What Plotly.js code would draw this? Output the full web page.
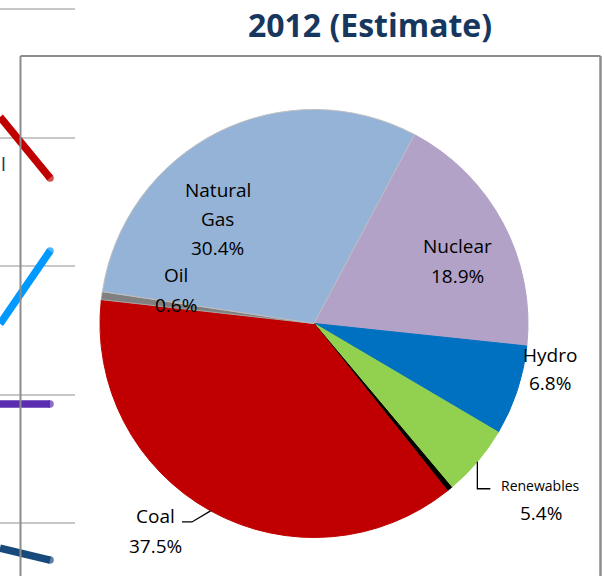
<!DOCTYPE html>
<html>
<head>
<meta charset="utf-8">
<script src="https://cdn.plot.ly/plotly-3.0.1.min.js"></script>
<style>html,body{margin:0;padding:0;background:#fff;}#chart{width:604px;height:576px;}</style>
</head>
<body>
<div id="chart"></div>
<script>
// ---- Pie data (drawing order, clockwise) ----
const categories = ['Nuclear', 'Hydro', 'Renewables', 'Other', 'Coal', 'Oil', 'Natural Gas'];
const shares     = [18.9, 6.8, 5.4, 0.4, 37.5, 0.6, 30.4];
const labelLines = {
  'Nuclear':     ['Nuclear', '18.9%'],
  'Hydro':       ['Hydro', '6.8%'],
  'Renewables':  ['Renewables', '5.4%'],
  'Coal':        ['Coal', '37.5%'],
  'Oil':         ['Oil', '0.6%'],
  'Natural Gas': ['Natural', 'Gas', '30.4%']
};
const sliceColors = ['#b2a2c7', '#0070c0', '#92d050', '#000000', '#c00000', '#808080', '#95b3d7'];
const sliceLine   = ['#b2a2c7', '#0070c0', '#92d050', '#000000', '#c00000', '#a6a6a6', '#bfbfbf'];

// ---- Cropped neighbouring line chart (left edge fragment) ----
const fragX      = [0, 1];
const fragRed    = [41.6, 36.85];
const fragBlue   = [25.5, 31.17];
const fragPurple = [19.26, 19.26];
const fragNavy   = [8.05, 7.12];

// ---- Layout / style constants ----
const W = 604, H = 576;
const CX = 314, CY = 323.5, R = 214;
const ROT = 28;
const px = x => x / W;
const py = y => 1 - y / H;

const labelStyle = {
  'Nuclear':     {f: 0.72, dx: 7,   dy: 10,  sp: 30, size: 19},
  'Hydro':       {f: 1.10, dx: 12,  dy: -28, sp: 28, size: 19},
  'Natural Gas': {f: 0.70, dx: -29, dy: 29,  sp: 29, size: 19},
  'Oil':         {f: 0.65, dx: 0,   dy: -15, sp: 30, size: 19},
  'Renewables':  {f: 1.00, dx: 63.6, dy: 37.3, sp: 28, size: 14, sizes: [14, 19],
                  leader: [[0, 0], [0, 27], [13, 27]]},
  'Coal':        {f: 1.00, dx: -55, dy: 20, sp: 30, size: 19,
                  leader: [[0, 0], [-18.6, 11.1], [-28.6, 11.1]]}
};

const total = shares.reduce((a, b) => a + b, 0);
const annotations = [];
const shapes = [];
let acc = 0;
categories.forEach((cat, i) => {
  const mid = ROT + (acc + shares[i] / 2) / total * 360;
  acc += shares[i];
  const st = labelStyle[cat];
  if (!st) return;
  const a = mid * Math.PI / 180;
  const ex = CX + st.f * R * Math.sin(a);
  const ey = CY - st.f * R * Math.cos(a);
  const bx = ex + st.dx, by = ey + st.dy;
  const lines = labelLines[cat];
  lines.forEach((t, k) => {
    const yy = by + (k - (lines.length - 1) / 2) * st.sp;
    annotations.push({
      xref: 'paper', yref: 'paper', x: px(bx), y: py(yy),
      xanchor: 'center', yanchor: 'middle', showarrow: false, text: t,
      font: {family: 'Open Sans', size: st.sizes ? st.sizes[k] : st.size, color: '#000000'}
    });
  });
  if (st.leader) {
    const pts = st.leader.map(p => [ex + p[0], ey + p[1]]);
    const path = 'M ' + pts.map(p => px(p[0]) + ',' + py(p[1])).join(' L ');
    shapes.push({type: 'path', xref: 'paper', yref: 'paper', path: path,
                 line: {color: '#000000', width: 1.3}});
  }
});

// truncated label of neighbouring chart
annotations.push({xref: 'paper', yref: 'paper', x: px(3), y: py(164), xanchor: 'center', yanchor: 'middle',
  showarrow: false, text: 'l', font: {family: 'Open Sans', size: 19, color: '#17375e'}});

// chart frame
const frameColor = '#8c8c8c';
shapes.push({type: 'line', xref: 'paper', yref: 'paper', x0: px(20.5), x1: px(20.5), y0: py(56), y1: -0.05, line: {color: frameColor, width: 2}});
shapes.push({type: 'line', xref: 'paper', yref: 'paper', x0: px(20.5), x1: px(600.5), y0: py(56), y1: py(56), line: {color: frameColor, width: 2}});
shapes.push({type: 'line', xref: 'paper', yref: 'paper', x0: px(600.5), x1: px(600.5), y0: py(56), y1: -0.05, line: {color: frameColor, width: 2.5}});

function fragTrace(y, color) {
  return {type: 'scatter', mode: 'lines+markers', x: fragX, y: y, xaxis: 'x', yaxis: 'y',
    line: {color: color, width: 7.5}, marker: {color: color, size: [0, 7.5], line: {width: 0}},
    hoverinfo: 'skip', cliponaxis: true, showlegend: false};
}

const data = [
  fragTrace(fragRed, '#c00000'),
  fragTrace(fragBlue, '#0099ff'),
  fragTrace(fragPurple, '#5b2db0'),
  fragTrace(fragNavy, '#17497a'),
  {
    type: 'pie', labels: categories, values: shares, sort: false, direction: 'clockwise',
    rotation: ROT, textinfo: 'none', hoverinfo: 'label+percent',
    marker: {colors: sliceColors, line: {color: sliceLine, width: 1}},
    domain: {x: [px(CX - R), px(CX + R)], y: [py(CY + R), py(CY - R)]},
    showlegend: false
  }
];

const layout = {
  width: W, height: H,
  margin: {l: 0, r: 0, t: 0, b: 0, pad: 0},
  paper_bgcolor: '#ffffff', plot_bgcolor: 'rgba(0,0,0,0)',
  showlegend: false,
  title: {text: '2012 (Estimate)', x: px(370), xref: 'paper', xanchor: 'center',
          y: py(26), yref: 'paper', yanchor: 'middle',
          font: {family: 'Open Sans', size: 32, weight: 'bold', color: '#17375e'}},
  xaxis: {domain: [0, px(75)], range: [0, 1.5], showgrid: false, zeroline: false,
          showticklabels: false, ticks: '', showline: false, fixedrange: true},
  yaxis: {domain: [0, 1], range: [5.88, 50.70], tick0: 0, dtick: 10, showgrid: true,
          gridcolor: '#c8c8c8', gridwidth: 2, zeroline: false, showticklabels: false,
          ticks: '', showline: false, fixedrange: true},
  annotations: annotations,
  shapes: shapes
};

Plotly.newPlot('chart', data, layout, {displayModeBar: false, staticPlot: true});
</script>
</body>
</html>
